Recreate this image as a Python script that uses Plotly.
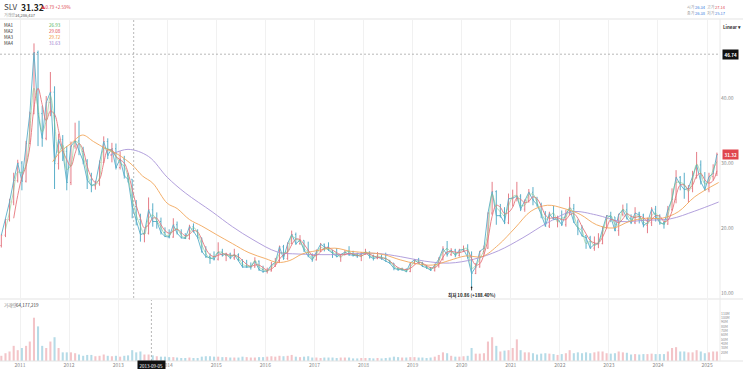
import pandas as pd
import plotly.graph_objects as go

W, H = 743, 369
FONT = "Noto Sans CJK KR, Noto Sans, sans-serif"

def px(x):
    return x / W

def py(y):
    return 1 - y / H

# ---------------- data (monthly) ----------------
months = pd.date_range("2010-08-01", periods=176, freq="MS") + pd.Timedelta(days=14)

open_ = [
    17.3, 18.9, 21.3, 24.0, 27.3,
    30.0, 27.2, 33.0, 37.6, 47.0, 37.6, 33.8, 39.3, 40.9, 29.9, 33.6, 31.8,
    27.0, 32.6, 33.4, 31.8, 30.3, 27.4, 26.5, 26.8, 30.1, 33.3, 31.2, 32.2,
    29.3, 30.6, 28.0, 27.5, 23.3, 21.3, 19.0, 19.2, 22.8, 21.0, 21.0, 19.3,
    18.7, 18.6, 20.5, 19.2, 18.5, 18.4, 20.2, 19.5, 18.5, 16.4, 15.6, 15.4,
    15.2, 16.3, 15.8, 16.0, 15.4, 15.9, 15.0, 14.0, 14.0, 14.0, 14.9, 13.6,
    13.3, 13.4, 14.3, 14.7, 17.1, 15.3, 17.6, 19.0, 17.6, 18.1, 16.6, 15.7,
    15.1, 16.4, 17.5, 17.1, 16.6, 16.2, 15.6, 15.9, 16.3, 15.9, 15.8, 15.7,
    16.0, 16.3, 15.6, 15.3, 15.5, 15.3, 14.9, 14.6, 13.8, 13.6, 13.6, 13.3,
    14.6, 15.1, 14.6, 14.1, 13.9, 13.5, 14.3, 15.2, 16.8, 15.9, 16.6, 15.8,
    16.6, 16.7, 15.5, 13.0, 14.0, 16.4, 16.9, 22.3, 25.6, 21.9, 21.9, 20.8,
    24.5, 24.6, 24.9, 22.9, 24.2, 25.5, 24.3, 23.6, 22.1, 20.3, 22.2, 21.3,
    21.4, 20.5, 22.2, 23.0, 20.9, 20.0, 18.8, 18.5, 16.9, 17.5, 17.6, 20.0,
    21.9, 21.7, 19.6, 22.1, 22.8, 21.5, 20.8, 22.3, 22.0, 20.4, 20.8, 22.9,
    21.9, 20.8, 20.6, 22.8, 24.4, 27.8, 26.7, 25.9, 26.1, 28.1, 29.7, 27.1,
    25.9, 27.9, 28.4,
]
high = [
    19.0, 21.4, 24.5, 28.5, 30.5,
    30.3, 33.4, 37.9, 48.4, 47.3, 38.8, 40.3, 44.0, 41.8, 34.5, 34.3, 32.6,
    33.3, 36.2, 36.5, 32.5, 30.6, 28.5, 27.3, 30.4, 34.1, 33.8, 33.1, 33.0,
    31.8, 31.1, 28.5, 27.5, 24.3, 22.2, 19.8, 24.7, 23.8, 22.4, 21.6, 20.1,
    19.8, 21.5, 21.0, 19.8, 19.2, 20.5, 20.7, 19.8, 18.5, 17.2, 16.1, 16.4,
    17.8, 16.8, 16.2, 16.2, 16.8, 16.1, 15.2, 15.1, 14.7, 15.5, 15.0, 14.2,
    13.9, 14.8, 15.4, 17.3, 17.4, 17.8, 19.6, 19.3, 18.9, 18.1, 17.9, 16.1,
    16.7, 17.7, 17.6, 17.8, 16.6, 16.9, 16.0, 16.6, 17.2, 16.5, 16.2, 16.3,
    16.8, 16.4, 15.9, 16.3, 15.9, 16.2, 15.1, 14.6, 13.9, 13.9, 13.8, 14.7,
    15.2, 15.4, 14.8, 14.3, 14.0, 14.5, 15.5, 17.2, 18.0, 16.9, 16.8, 16.8,
    17.3, 17.5, 16.4, 14.6, 16.5, 17.3, 22.4, 27.1, 25.8, 23.7, 23.2, 25.3,
    25.9, 27.1, 25.2, 24.4, 26.0, 26.3, 24.8, 23.9, 22.6, 22.5, 23.4, 21.9,
    22.7, 22.8, 24.8, 23.7, 21.3, 20.4, 18.9, 18.8, 18.7, 19.2, 20.2, 22.0,
    22.5, 21.7, 22.2, 23.6, 23.8, 22.1, 23.2, 22.5, 22.2, 21.6, 23.2, 23.4,
    22.1, 21.0, 23.4, 26.1, 28.9, 28.0, 28.5, 26.6, 28.8, 31.7, 30.4, 28.6,
    28.5, 29.8, 31.6,
]
low = [
    17.0, 18.6, 21.0, 23.5, 27.0,
    25.8, 27.0, 32.9, 37.5, 32.6, 32.5, 33.5, 37.2, 26.0, 29.0, 30.3, 25.8,
    26.6, 32.2, 31.2, 29.8, 26.0, 25.5, 25.9, 26.5, 30.0, 30.6, 30.1, 29.0,
    29.0, 27.6, 27.0, 21.5, 20.4, 17.9, 17.8, 19.0, 20.2, 19.9, 19.0, 18.6,
    18.4, 18.5, 19.0, 18.4, 18.3, 18.2, 19.3, 18.4, 16.2, 15.4, 14.5, 15.0,
    15.0, 15.6, 14.9, 15.2, 15.1, 14.9, 13.9, 13.9, 13.6, 13.9, 13.4, 13.1,
    13.0, 13.3, 14.0, 14.6, 15.1, 15.1, 17.5, 17.4, 17.4, 16.3, 15.5, 14.8,
    15.0, 16.3, 16.4, 16.5, 15.4, 15.5, 14.8, 15.8, 15.7, 15.6, 15.4, 14.9,
    15.9, 15.3, 15.0, 15.2, 15.1, 14.8, 14.5, 13.5, 13.4, 13.4, 13.2, 13.2,
    14.4, 14.5, 14.0, 13.7, 13.4, 13.3, 13.9, 15.0, 15.6, 15.7, 15.5, 15.6,
    16.3, 15.3, 10.86, 12.9, 13.9, 15.9, 16.8, 22.0, 20.5, 21.6, 20.6, 20.6,
    23.3, 24.1, 22.6, 22.5, 23.9, 23.5, 23.3, 21.5, 20.2, 20.0, 21.2, 20.1,
    20.3, 20.2, 22.0, 20.8, 18.9, 18.7, 16.8, 16.8, 16.5, 16.9, 17.5, 19.9,
    20.9, 19.5, 18.8, 21.8, 21.3, 20.6, 20.6, 20.7, 20.1, 19.2, 20.3, 21.0,
    20.5, 19.9, 20.5, 22.7, 23.8, 25.8, 24.5, 23.9, 25.5, 27.6, 26.7, 25.7,
    25.5, 27.3, 28.0,
]
close = [
    18.9, 21.3, 24.0, 27.3, 30.0,
    27.2, 33.0, 37.6, 47.0, 37.6, 33.8, 39.3, 40.9, 29.9, 33.6, 31.8, 27.0,
    32.6, 33.4, 31.8, 30.3, 27.4, 26.5, 26.8, 30.1, 33.3, 31.2, 32.2, 29.3,
    30.6, 28.0, 27.5, 23.3, 21.3, 19.0, 19.2, 22.8, 21.0, 21.0, 19.3, 18.7,
    18.6, 20.5, 19.2, 18.5, 18.4, 20.2, 19.5, 18.5, 16.4, 15.6, 15.4, 15.2,
    16.3, 15.8, 16.0, 15.4, 15.9, 15.0, 14.0, 14.0, 14.0, 14.9, 13.6, 13.3,
    13.4, 14.3, 14.7, 17.1, 15.3, 17.6, 19.0, 17.6, 18.1, 16.6, 15.7, 15.1,
    16.4, 17.5, 17.1, 16.6, 16.2, 15.6, 15.9, 16.3, 15.9, 15.8, 15.7, 16.0,
    16.3, 15.6, 15.3, 15.5, 15.3, 14.9, 14.6, 13.8, 13.6, 13.6, 13.3, 14.6,
    15.1, 14.6, 14.1, 13.9, 13.5, 14.3, 15.2, 16.8, 15.9, 16.6, 15.8, 16.6,
    16.7, 15.5, 13.0, 14.0, 16.4, 16.9, 22.3, 25.6, 21.9, 21.9, 20.8, 24.5,
    24.6, 24.9, 22.9, 24.2, 25.5, 24.3, 23.6, 22.1, 20.3, 22.2, 21.3, 21.4,
    20.5, 22.2, 23.0, 20.9, 20.0, 18.8, 18.5, 16.9, 17.5, 17.6, 20.0, 21.9,
    21.7, 19.6, 22.1, 22.8, 21.5, 20.8, 22.3, 22.0, 20.4, 20.8, 22.9, 21.9,
    20.8, 20.6, 22.8, 24.4, 27.8, 26.7, 25.9, 26.1, 28.1, 29.7, 27.1, 25.9,
    27.9, 28.4, 31.32,
]
volume_m = [
    12, 18, 22, 35, 25,
    30, 35, 45, 100, 80, 35, 30, 45, 55, 30, 20, 20,
    20, 18, 15, 12, 14, 14, 11, 12, 15, 12, 11, 12,
    10, 12, 13, 25, 20, 22, 15, 15, 13, 11, 10, 10,
    9, 9, 8, 7, 7, 8, 7, 7, 10, 11, 11, 10,
    10, 9, 9, 8, 8, 8, 10, 9, 8, 8, 9, 9,
    10, 11, 10, 12, 11, 12, 14, 10, 9, 10, 11, 8,
    8, 7, 8, 8, 8, 7, 8, 8, 8, 6, 6, 7,
    7, 7, 6, 7, 6, 7, 8, 10, 9, 8, 8, 9,
    9, 8, 8, 7, 8, 10, 14, 20, 18, 12, 10, 10,
    11, 12, 30, 17, 17, 18, 45, 55, 35, 22, 24, 25,
    30, 50, 25, 20, 20, 18, 15, 17, 18, 17, 16, 14,
    16, 18, 25, 18, 20, 18, 20, 18, 20, 22, 22, 18,
    17, 18, 22, 20, 19, 15, 16, 15, 16, 16, 17, 16,
    16, 16, 22, 30, 32, 22, 22, 20, 20, 25, 22, 18,
    20, 22, 22,
]
# MA1 (short) monthly from 2010-09
ma1 = [
    19.8, 22.5, 25.8, 28.6,
    28.5, 29.8, 35.2, 41.5, 38.5, 34.8, 36.5, 40.3, 36.2, 31.5, 32.8, 29.0,
    29.7, 33.3, 33.0, 31.0, 28.5, 26.7, 26.6, 27.8, 32.2, 32.2, 31.8, 31.0,
    30.0, 29.5, 27.8, 24.5, 22.0, 20.3, 19.0, 21.5, 22.0, 21.1, 20.1, 19.0,
    18.8, 19.7, 19.9, 18.9, 18.5, 19.2, 20.1, 19.2, 17.4, 16.1, 15.3, 15.6,
    16.3, 16.2, 15.8, 15.7, 15.8, 15.4, 14.4, 14.2, 14.1, 15.0, 14.0, 13.6,
    13.4, 14.0, 14.6, 16.0, 16.2, 16.4, 18.8, 18.3, 18.0, 16.9, 16.2, 15.3,
    15.9, 17.0, 16.8, 16.9, 16.2, 16.0, 15.5, 16.2, 16.4, 15.9, 15.9, 15.6,
    16.3, 15.9, 15.5, 15.7, 15.5, 15.3, 14.9, 14.1, 13.7, 13.7, 13.4, 14.0,
    14.8, 14.9, 14.5, 14.0, 13.7, 14.0, 14.9, 16.3, 16.8, 16.3, 16.0, 16.2,
    16.8, 16.8, 13.8, 14.2, 15.3, 16.6, 19.5, 25.2, 23.2, 22.5, 21.9, 23.4,
    24.8, 25.0, 23.5, 23.5, 25.1, 25.2, 23.9, 22.4, 21.3, 21.8, 22.3, 20.9,
    21.5, 21.7, 23.2, 22.0, 20.1, 19.6, 17.6, 18.0, 17.3, 17.8, 19.2, 21.3,
    21.9, 20.6, 20.5, 22.9, 22.2, 21.2, 21.8, 21.8, 21.0, 20.6, 21.9, 22.3,
    21.0, 20.6, 22.0, 24.6, 27.0, 27.0, 26.7, 25.6, 27.4, 29.8, 28.4, 26.8,
    27.2, 29.0, 30.2,
]
# MA2 monthly from 2010-11
ma2 = [
    21.5, 25.0,
    27.8, 29.5, 32.5, 38.5, 41.5, 39.0, 36.5, 38.0, 37.5, 35.0, 32.0, 30.5,
    29.5, 31.5, 33.0, 32.0, 29.5, 27.8, 27.0, 27.5, 30.0, 32.0, 32.0, 31.0,
    30.5, 30.0, 28.5, 26.0, 23.5, 21.5, 20.0, 20.5, 21.5, 21.5, 20.5, 19.6,
    19.2, 19.5, 19.8, 19.3, 18.8, 19.0, 19.6, 19.4, 18.2, 16.8, 15.9, 15.6,
    15.8, 16.0, 16.0, 15.8, 15.8, 15.6, 15.0, 14.4, 14.1, 14.3, 14.3, 13.9,
    13.5, 13.7, 14.2, 15.2, 15.9, 16.3, 17.4, 18.3, 18.2, 17.5, 16.6, 15.8,
    15.8, 16.3, 16.9, 17.0, 16.6, 16.2, 15.9, 15.9, 16.1, 16.0, 15.8, 15.7,
    16.0, 16.0, 15.7, 15.5, 15.4, 15.3, 14.9, 14.4, 13.9, 13.7, 13.6, 13.8,
    14.3, 14.7, 14.6, 14.2, 13.9, 13.9, 14.4, 15.5, 16.3, 16.4, 16.3, 16.2,
    16.4, 16.5, 15.3, 14.3, 14.5, 15.9, 18.3, 21.8, 23.5, 23.2, 22.2, 22.4,
    23.2, 24.6, 24.4, 23.9, 24.1, 24.8, 24.5, 23.4, 22.0, 21.5, 21.6, 21.6,
    21.3, 21.3, 22.0, 22.2, 21.5, 20.2, 19.1, 18.1, 17.7, 17.7, 18.6, 20.0,
    21.3, 21.1, 20.8, 21.4, 22.2, 21.8, 21.6, 21.8, 21.6, 21.0, 21.3, 21.9,
    21.8, 21.0, 21.2, 22.6, 25.0, 26.6, 26.6, 26.0, 26.6, 28.0, 28.4, 27.4,
    26.9, 27.3, 28.8,
]
ma3_dates = [
    "2011-09-01", "2011-11-01", "2012-01-15", "2012-04-10", "2012-07-01", "2012-10-01",
    "2013-01-01", "2013-04-15", "2013-07-01", "2013-09-15", "2014-01-01", "2014-03-15",
    "2014-06-15", "2014-09-15", "2015-01-01", "2015-05-01", "2015-09-01", "2016-01-01",
    "2016-04-01", "2016-07-01", "2016-10-01", "2017-01-15", "2017-06-01", "2017-10-01",
    "2018-02-01", "2018-06-01", "2018-10-01", "2019-02-01", "2019-06-01", "2019-10-01",
    "2020-02-01", "2020-06-01", "2020-10-01", "2021-02-01", "2021-06-01", "2021-10-01",
    "2022-02-01", "2022-06-01", "2022-10-01", "2023-02-01", "2023-06-01", "2023-10-01",
    "2024-02-01", "2024-06-01", "2024-10-01", "2025-03-28",
]
ma3 = [
    30.2, 31.8, 33.0, 34.3, 33.3, 32.2,
    31.3, 29.7, 28.0, 26.9, 23.8, 23.0,
    21.3, 20.3, 19.0, 17.6, 16.2, 15.3,
    14.7, 15.0, 16.0, 16.5, 16.9, 16.4,
    16.2, 15.9, 15.1, 14.5, 14.3, 15.0,
    15.7, 15.6, 17.4, 20.0, 22.6, 23.5,
    23.0, 22.1, 20.5, 20.0, 21.0, 21.5,
    21.5, 22.5, 24.8, 27.0,
]
ma4_dates = [
    "2012-11-01", "2013-03-15", "2013-08-15", "2014-01-01", "2014-05-15", "2014-12-01",
    "2015-05-01", "2015-10-01", "2016-04-01", "2016-09-01", "2017-05-01", "2018-04-01",
    "2018-10-01", "2019-04-01", "2019-10-01", "2020-04-01", "2020-10-01", "2021-04-01",
    "2021-10-01", "2022-04-01", "2022-10-01", "2023-04-01", "2023-10-01", "2024-04-01",
    "2024-10-01", "2025-03-28",
]
ma4 = [
    31.2, 32.1, 31.0, 27.8, 25.4, 22.5,
    20.2, 18.2, 16.3, 16.0, 15.9, 16.1,
    15.6, 14.9, 14.6, 15.2, 16.5, 18.5,
    20.8, 22.5, 22.0, 21.0, 21.2, 21.4,
    22.6, 24.0,
]
year_ticks = [f"{y}-01-01" for y in range(2011, 2026)]
year_labels = [str(y) for y in range(2011, 2026)]
price_ticks = [10, 20, 30, 40]
price_labels = ["10.00", "20.00", "30.00", "40.00"]
vol_ticks = [v * 1e6 for v in range(20, 120, 10)]
vol_labels = [f"{v}M" for v in range(20, 120, 10)]

UP = "#e57c86"
DOWN = "#5aafc9"
vol_colors = ["rgba(229,124,134,0.45)" if c >= o else "rgba(90,175,201,0.45)"
              for o, c in zip(open_, close)]

fig = go.Figure()
fig.add_trace(go.Scatter(x=months, y=close, mode="lines", line=dict(color=DOWN, width=0.9),
                         xaxis="x", yaxis="y", showlegend=False, hoverinfo="skip"))
fig.add_trace(go.Ohlc(
    x=months, open=open_, high=high, low=low, close=close,
    increasing=dict(line=dict(color=UP, width=1)),
    decreasing=dict(line=dict(color=DOWN, width=1)),
    tickwidth=0.25, xaxis="x", yaxis="y", showlegend=False, hoverinfo="skip"))
fig.add_trace(go.Scatter(x=ma4_dates, y=ma4, mode="lines", line=dict(color="#a995d8", width=0.9, shape="spline"),
                         xaxis="x", yaxis="y", showlegend=False, hoverinfo="skip"))
fig.add_trace(go.Scatter(x=ma3_dates, y=ma3, mode="lines", line=dict(color="#f2a65a", width=0.9, shape="spline"),
                         xaxis="x", yaxis="y", showlegend=False, hoverinfo="skip"))
fig.add_trace(go.Scatter(x=months[3:], y=ma2, mode="lines", line=dict(color="#e7757a", width=0.9, shape="spline"),
                         xaxis="x", yaxis="y", showlegend=False, hoverinfo="skip"))
fig.add_trace(go.Scatter(x=months[1:], y=ma1, mode="lines", line=dict(color="#7cc47f", width=0.7, shape="spline"),
                         xaxis="x", yaxis="y", showlegend=False, hoverinfo="skip", opacity=0.8))
fig.add_trace(go.Bar(x=months, y=[v * 1e6 for v in volume_m], marker=dict(color=vol_colors, line=dict(width=0)),
                     xaxis="x2", yaxis="y2", showlegend=False, hoverinfo="skip"))

XDOM = [0, px(720)]
XRANGE = ["2010-08-05", "2025-04-07"]
axis_font = dict(family=FONT, size=5, color="#8a8a8a")

fig.update_layout(
    width=W, height=H, margin=dict(l=0, r=0, t=0, b=0),
    paper_bgcolor="white", plot_bgcolor="white",
    font=dict(family=FONT),
    bargap=0.45,
    xaxis=dict(domain=XDOM, range=XRANGE, anchor="y", type="date",
               tickvals=year_ticks, ticktext=year_labels, showticklabels=False,
               showgrid=True, gridcolor="#f1f1f1", gridwidth=1, zeroline=False,
               rangeslider=dict(visible=False), showline=False, ticks=""),
    xaxis2=dict(domain=XDOM, range=XRANGE, anchor="y2", type="date", matches="x",
                tickvals=year_ticks, ticktext=year_labels, showticklabels=True,
                tickfont=axis_font, showgrid=True, gridcolor="#f1f1f1", zeroline=False,
                showline=False, ticks=""),
    yaxis=dict(domain=[py(298), py(20)], range=[9.23, 52.0], anchor="x", side="right",
               tickvals=price_ticks, ticktext=price_labels, tickfont=axis_font,
               showgrid=False, zeroline=False, ticks="", showline=False),
    yaxis2=dict(domain=[py(361), py(300)], range=[0, 141e6], anchor="x2", side="right",
                tickvals=vol_ticks, ticktext=vol_labels,
                tickfont=dict(family=FONT, size=3.5, color="#8a8a8a"),
                showgrid=False, zeroline=False, ticks="", showline=False),
)

shapes = [
    dict(type="line", xref="paper", yref="paper", x0=0, x1=1, y0=py(19), y1=py(19),
         line=dict(color="#e3e3e3", width=1)),
    dict(type="line", xref="paper", yref="paper", x0=0, x1=1, y0=py(299), y1=py(299),
         line=dict(color="#e3e3e3", width=1)),
    dict(type="line", xref="paper", yref="paper", x0=0, x1=1, y0=py(361), y1=py(361),
         line=dict(color="#e3e3e3", width=1)),
    dict(type="line", xref="paper", yref="paper", x0=px(720), x1=px(720), y0=py(19), y1=py(361),
         line=dict(color="#eaeaea", width=1)),
    dict(type="line", xref="paper", yref="y", x0=0, x1=px(720), y0=46.74, y1=46.74,
         line=dict(color="#888888", width=0.6, dash="2px,2px")),
    dict(type="line", xref="x", yref="paper", x0="2013-04-26", x1="2013-04-26", y0=py(298), y1=py(20),
         line=dict(color="#888888", width=0.6, dash="2px,2px")),
    dict(type="line", xref="x", yref="paper", x0="2013-09-05", x1="2013-09-05", y0=py(361), y1=py(300),
         line=dict(color="#888888", width=0.6, dash="2px,2px")),
]
fig.update_layout(shapes=shapes)

ann = []

def text(x, y, s, size=5, color="#333", anchor="left", bold=False, bg=None):
    ann.append(dict(xref="paper", yref="paper", x=px(x), y=py(y), text=f"<b>{s}</b>" if bold else s,
                    showarrow=False, xanchor=anchor, yanchor="middle",
                    font=dict(family=FONT, size=size, color=color),
                    bgcolor=bg, borderpad=0))

# header
text(3, 7, "SLV", size=8, color="#444")
text(20, 7, "31.32", size=8.5, color="#222", bold=True)
text(40, 7, "▲0.79 +2.59%", size=4.5, color="#e0464e")
text(3, 14.5, "거래량", size=4, color="#999")
text(14, 14.5, "34,286,437", size=4, color="#555")

text(686, 6.5, "시가", size=4, color="#999")
text(694, 6.5, "26.34", size=4, color="#3b7ddd")
text(706, 6.5, "고가", size=4, color="#999")
text(714, 6.5, "27.14", size=4, color="#e0464e")
text(686, 12.5, "종가", size=4, color="#999")
text(694, 12.5, "26.38", size=4, color="#3b7ddd")
text(706, 12.5, "저가", size=4, color="#999")
text(714, 12.5, "25.17", size=4, color="#3b7ddd")

text(722, 27, "Linear ▾", size=4.5, color="#333", bold=True)

# MA legend
ma_rows = [("MA1", "26.93", "#4caf50"), ("MA2", "29.08", "#e0464e"),
           ("MA3", "29.72", "#f08c2a"), ("MA4", "31.63", "#9575cd")]
for i, (name, val, col) in enumerate(ma_rows):
    yy = 25 + i * 6
    text(3, yy, name, size=4.5, color="#333")
    text(48, yy, val, size=4.5, color=col)

text(3, 305, "거래량", size=4.5, color="#888")
text(15, 305, "64,177,219", size=4.5, color="#333")

# right-axis price tags
ann.append(dict(xref="paper", yref="y", x=px(722), y=46.74, text="<b>46.74</b>", showarrow=False,
                xanchor="left", yanchor="middle", font=dict(family=FONT, size=4.5, color="white"),
                bgcolor="#111111", borderpad=1.5))
ann.append(dict(xref="paper", yref="y", x=px(722), y=31.32, text="<b>31.32</b>", showarrow=False,
                xanchor="left", yanchor="middle", font=dict(family=FONT, size=4.5, color="white"),
                bgcolor="#e0464e", borderpad=1.5))
# date tag
ann.append(dict(xref="x2", yref="paper", x="2013-09-05", y=py(365), text="2013-09-05", showarrow=False,
                xanchor="center", yanchor="middle", font=dict(family=FONT, size=4.5, color="white"),
                bgcolor="#111111", borderpad=1.5))
# low annotation
ann.append(dict(xref="x", yref="y", x=months[115], y=min(low), text="<b>최저 10.86 (+188.40%)</b>",
                showarrow=True, arrowhead=6, arrowsize=0.5, arrowwidth=0.8, arrowcolor="#222",
                ax=0, ay=8, font=dict(family=FONT, size=4.5, color="#222")))

fig.update_layout(annotations=ann)
fig.write_html("out.html")
